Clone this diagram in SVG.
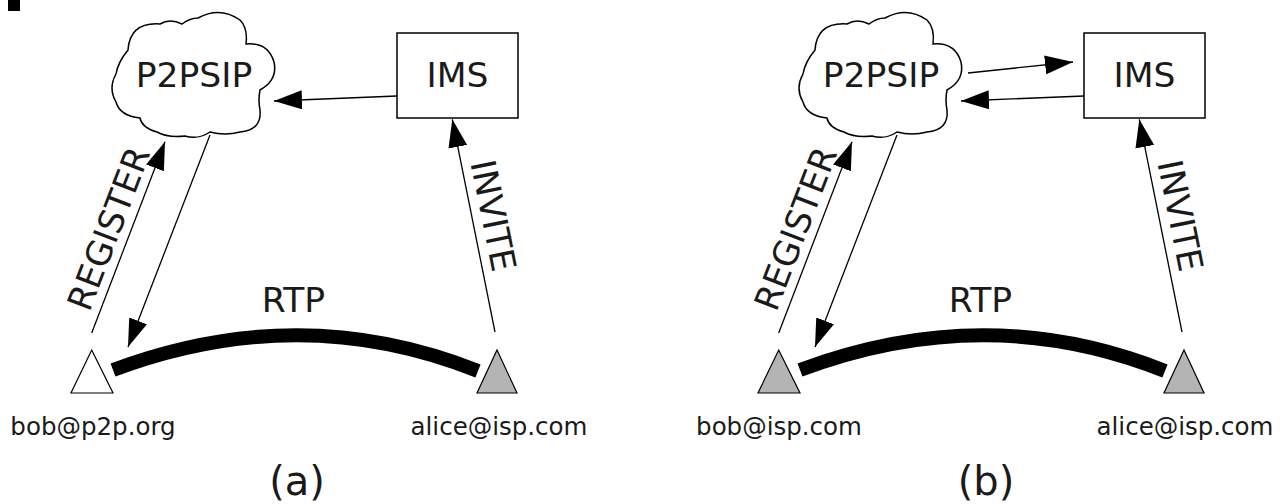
<svg xmlns="http://www.w3.org/2000/svg" width="1286" height="504" viewBox="0 0 1286 504">
<style>
text{font-family:"DejaVu Sans","Liberation Sans",sans-serif;fill:#1a1a1a}
.big{font-size:34.5px}
.lbl{font-size:24.5px}
.cap{font-size:40px}
.cloud{fill:#fff;stroke:#000;stroke-width:1.5}
.box{fill:#fff;stroke:#000;stroke-width:1.5}
.edge{fill:none;stroke:#000;stroke-width:1.3;marker-end:url(#ah)}
.rtp{fill:none;stroke:#000;stroke-width:14}
.tri{stroke:#000;stroke-width:1.2}
</style>
<defs>
<marker id="ah" markerUnits="userSpaceOnUse" markerWidth="28" markerHeight="19" refX="28" refY="9.5" orient="auto">
<path d="M0,0 L28,9.5 L0,19 z" fill="#000"/>
</marker>
<path id="cloudShape" d="M128,50 Q130,22 160,24 Q170,18 182,24 Q190,18 198,18 Q220,6 240,20 Q248,28 246,44 Q268,42 274,62 Q278,80 260,90 Q258,100 260,110 Q262,130 240,132 Q225,136 210,132 Q198,140 185,136 Q168,138 157,132 Q142,128 140,118 Q120,116 116,102 Q108,88 116,74 Q118,62 128,50 Z"/>
</defs>
<rect x="8" y="0" width="12" height="11" fill="#000"/>

<g id="p2psip-a"><use href="#cloudShape" class="cloud"/><text class="big" x="194" y="87" text-anchor="middle">P2PSIP</text></g>
<g id="ims-a"><rect class="box" x="397" y="33" width="121" height="85"/><text class="big" x="457.5" y="87" text-anchor="middle">IMS</text></g>
<g id="bob-a"><path class="tri" d="M91.7,350 L113,393 L71,393 Z" fill="#fff"/><text class="lbl" x="93" y="435" text-anchor="middle">bob@p2p.org</text></g>
<g id="alice-a"><path class="tri" d="M497,350 L517,393 L477,393 Z" fill="#b4b4b4"/><text class="lbl" x="499" y="435" text-anchor="middle">alice@isp.com</text></g>

<g id="p2psip-b"><use href="#cloudShape" class="cloud" transform="translate(687,0)"/><text class="big" x="881" y="87" text-anchor="middle">P2PSIP</text></g>
<g id="ims-b"><rect class="box" x="1084" y="33" width="121" height="85"/><text class="big" x="1144.5" y="87" text-anchor="middle">IMS</text></g>
<g id="bob-b"><path class="tri" d="M778.7,350 L800,393 L758,393 Z" fill="#b4b4b4"/><text class="lbl" x="779" y="435" text-anchor="middle">bob@isp.com</text></g>
<g id="alice-b"><path class="tri" d="M1184,350 L1204,393 L1164,393 Z" fill="#b4b4b4"/><text class="lbl" x="1185" y="435" text-anchor="middle">alice@isp.com</text></g>

<g id="connectors">
<line class="edge" x1="397" y1="96" x2="274" y2="101"/>
<line class="edge" x1="91.7" y1="333" x2="165" y2="141.7"/>
<line class="edge" x1="210" y1="135" x2="128" y2="347"/>
<line class="edge" x1="495" y1="332" x2="452.3" y2="119.3"/>
<path class="rtp" d="M113,370 Q300,300 478,371"/>

<line class="edge" x1="968" y1="73" x2="1073" y2="62"/>
<line class="edge" x1="1084" y1="96" x2="961" y2="101"/>
<line class="edge" x1="778.7" y1="333" x2="852" y2="141.7"/>
<line class="edge" x1="897" y1="135" x2="815" y2="347"/>
<line class="edge" x1="1182" y1="332" x2="1139.3" y2="119.3"/>
<path class="rtp" d="M800,370 Q987,300 1165,371"/>
</g>

<g id="labels">
<text class="big" x="120" y="233" text-anchor="middle" transform="rotate(-69 120 233)">REGISTER</text>
<text class="big" x="481.5" y="218" text-anchor="middle" transform="rotate(78.6 481.5 218)">INVITE</text>
<text class="big" x="293.5" y="311.5" text-anchor="middle">RTP</text>
<text class="big" x="807" y="233" text-anchor="middle" transform="rotate(-69 807 233)">REGISTER</text>
<text class="big" x="1168.5" y="218" text-anchor="middle" transform="rotate(78.6 1168.5 218)">INVITE</text>
<text class="big" x="980.5" y="311.5" text-anchor="middle">RTP</text>
<text class="cap" x="297" y="495" text-anchor="middle">(a)</text>
<text class="cap" x="986" y="495" text-anchor="middle">(b)</text>
</g>
</svg>
